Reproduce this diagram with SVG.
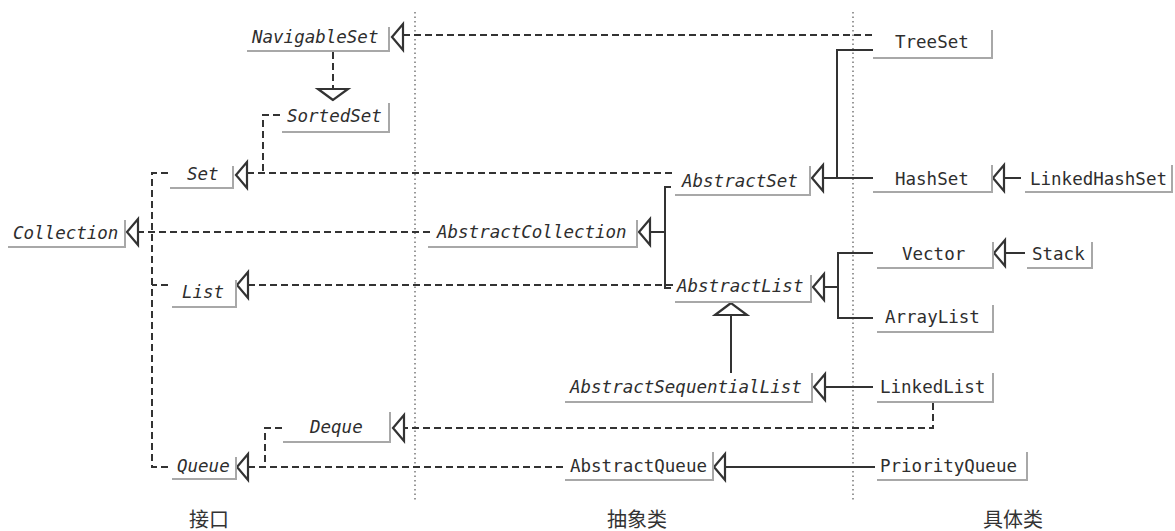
<svg xmlns="http://www.w3.org/2000/svg" xmlns:xlink="http://www.w3.org/1999/xlink" width="1175" height="531" viewBox="0 0 1175 531">
<style>
  .bg{fill:#ffffff}
  .name{font-family:"DejaVu Sans Mono","Liberation Mono",monospace;font-size:17.5px;fill:#2e2e2e}
  .it{font-style:italic}
  .box{fill:none;stroke:#a8a8a8;stroke-width:2}
  .dash{fill:none;stroke:#333;stroke-width:2;stroke-dasharray:7,4}
  .solid{fill:none;stroke:#333;stroke-width:2}
  .dot{fill:none;stroke:#555;stroke-width:1.2;stroke-dasharray:1.5,3}
  .arrow{fill:#fff;stroke:#333;stroke-width:2.2;stroke-linejoin:miter}
  .lbl{font-family:"Noto Sans CJK SC","Noto Sans",sans-serif;font-size:20px;fill:#333;text-anchor:middle}
</style>
<defs>
  <path id="triL" d="M0,0 L11,-13 L11,13 Z" class="arrow"/>
</defs>
<rect class="bg" x="0" y="0" width="1175" height="531"/>

<g id="separators">
  <line class="dot" x1="415" y1="12" x2="415" y2="500"/>
  <line class="dot" x1="853" y1="12" x2="853" y2="500"/>
</g>

<g id="connectors">
  <!-- dashed (implements / interface extends) -->
  <path class="dash" d="M403,35 H872"/>
  <path class="dash" d="M333,52 V89"/>
  <path class="dash" d="M280,115 H263 V173"/>
  <path class="dash" d="M247,173 H672"/>
  <path class="dash" d="M168,173 H152 V467 H168"/>
  <path class="dash" d="M168,285 H152"/>
  <path class="dash" d="M137,232 H432"/>
  <path class="dash" d="M248,285 H673"/>
  <path class="dash" d="M933,403 V428 H405"/>
  <path class="dash" d="M282,428 H265 V467"/>
  <path class="dash" d="M248,467 H565"/>
  <!-- solid (extends) -->
  <path class="solid" d="M650,232 H665"/>
  <path class="solid" d="M671,187 H665 V288 H671"/>
  <path class="solid" d="M823,178 H873"/>
  <path class="solid" d="M873,50 H837 V178"/>
  <path class="solid" d="M1003,178 H1021"/>
  <path class="solid" d="M825,287 H838"/>
  <path class="solid" d="M873,253 H838 V318 H873"/>
  <path class="solid" d="M1005,253 H1025"/>
  <path class="solid" d="M731,373 V315"/>
  <path class="solid" d="M825,387 H873"/>
  <path class="solid" d="M725,467 H875"/>
  <!-- arrowheads -->
  <use href="#triL" x="392" y="37"/>
  <use href="#triL" x="236" y="175"/>
  <use href="#triL" x="127" y="232"/>
  <use href="#triL" x="237" y="285"/>
  <use href="#triL" x="393" y="428"/>
  <use href="#triL" x="237" y="467"/>
  <use href="#triL" x="639" y="232"/>
  <use href="#triL" x="812" y="178"/>
  <use href="#triL" x="813" y="287"/>
  <use href="#triL" x="814" y="387"/>
  <use href="#triL" x="714" y="467"/>
  <use href="#triL" x="993" y="178"/>
  <use href="#triL" x="994" y="253"/>
  <polygon class="arrow" points="333,100 318,89 348,89"/>
  <polygon class="arrow" points="731,303 715,315 747,315"/>
</g>

<g id="NavigableSet"><path class="box" d="M247,51 H389 V27"/><text class="name it" x="252" y="43">NavigableSet</text></g>
<g id="SortedSet"><path class="box" d="M282,132 H389 V103"/><text class="name it" x="287" y="122">SortedSet</text></g>
<g id="Set"><path class="box" d="M170,188 H233 V166"/><text class="name it" x="187" y="180">Set</text></g>
<g id="Collection"><path class="box" d="M8,247 H125 V220"/><text class="name it" x="13" y="239">Collection</text></g>
<g id="List"><path class="box" d="M172,307 H236 V280"/><text class="name it" x="182" y="298">List</text></g>
<g id="Deque"><path class="box" d="M283,442 H390 V412"/><text class="name it" x="310" y="433">Deque</text></g>
<g id="Queue"><path class="box" d="M172,479 H236 V457"/><text class="name it" x="177" y="472">Queue</text></g>
<g id="AbstractCollection"><path class="box" d="M428,247 H637 V220"/><text class="name it" x="437" y="238">AbstractCollection</text></g>
<g id="AbstractSet"><path class="box" d="M675,195 H810 V166"/><text class="name it" x="682" y="187">AbstractSet</text></g>
<g id="AbstractList"><path class="box" d="M675,302 H811 V275"/><text class="name it" x="677" y="292">AbstractList</text></g>
<g id="AbstractSequentialList"><path class="box" d="M565,402 H812 V373"/><text class="name it" x="570" y="393">AbstractSequentialList</text></g>
<g id="AbstractQueue"><path class="box" d="M565,480 H713 V452"/><text class="name" x="570" y="472">AbstractQueue</text></g>
<g id="TreeSet"><path class="box" d="M873,58 H992 V30"/><text class="name" x="895" y="48">TreeSet</text></g>
<g id="HashSet"><path class="box" d="M873,192 H992 V165"/><text class="name" x="895" y="185">HashSet</text></g>
<g id="LinkedHashSet"><path class="box" d="M1025,192 H1172 V165"/><text class="name" x="1030" y="185">LinkedHashSet</text></g>
<g id="Vector"><path class="box" d="M877,268 H993 V242"/><text class="name" x="902" y="260">Vector</text></g>
<g id="Stack"><path class="box" d="M1027,268 H1092 V242"/><text class="name" x="1032" y="260">Stack</text></g>
<g id="ArrayList"><path class="box" d="M877,332 H993 V305"/><text class="name" x="885" y="323">ArrayList</text></g>
<g id="LinkedList"><path class="box" d="M877,402 H993 V373"/><text class="name" x="880" y="393">LinkedList</text></g>
<g id="PriorityQueue"><path class="box" d="M877,480 H1027 V452"/><text class="name" x="880" y="472">PriorityQueue</text></g>

<g id="labels">
  <text class="lbl" x="209" y="527">接口</text>
  <text class="lbl" x="637" y="527">抽象类</text>
  <text class="lbl" x="1013" y="527">具体类</text>
</g>
</svg>
